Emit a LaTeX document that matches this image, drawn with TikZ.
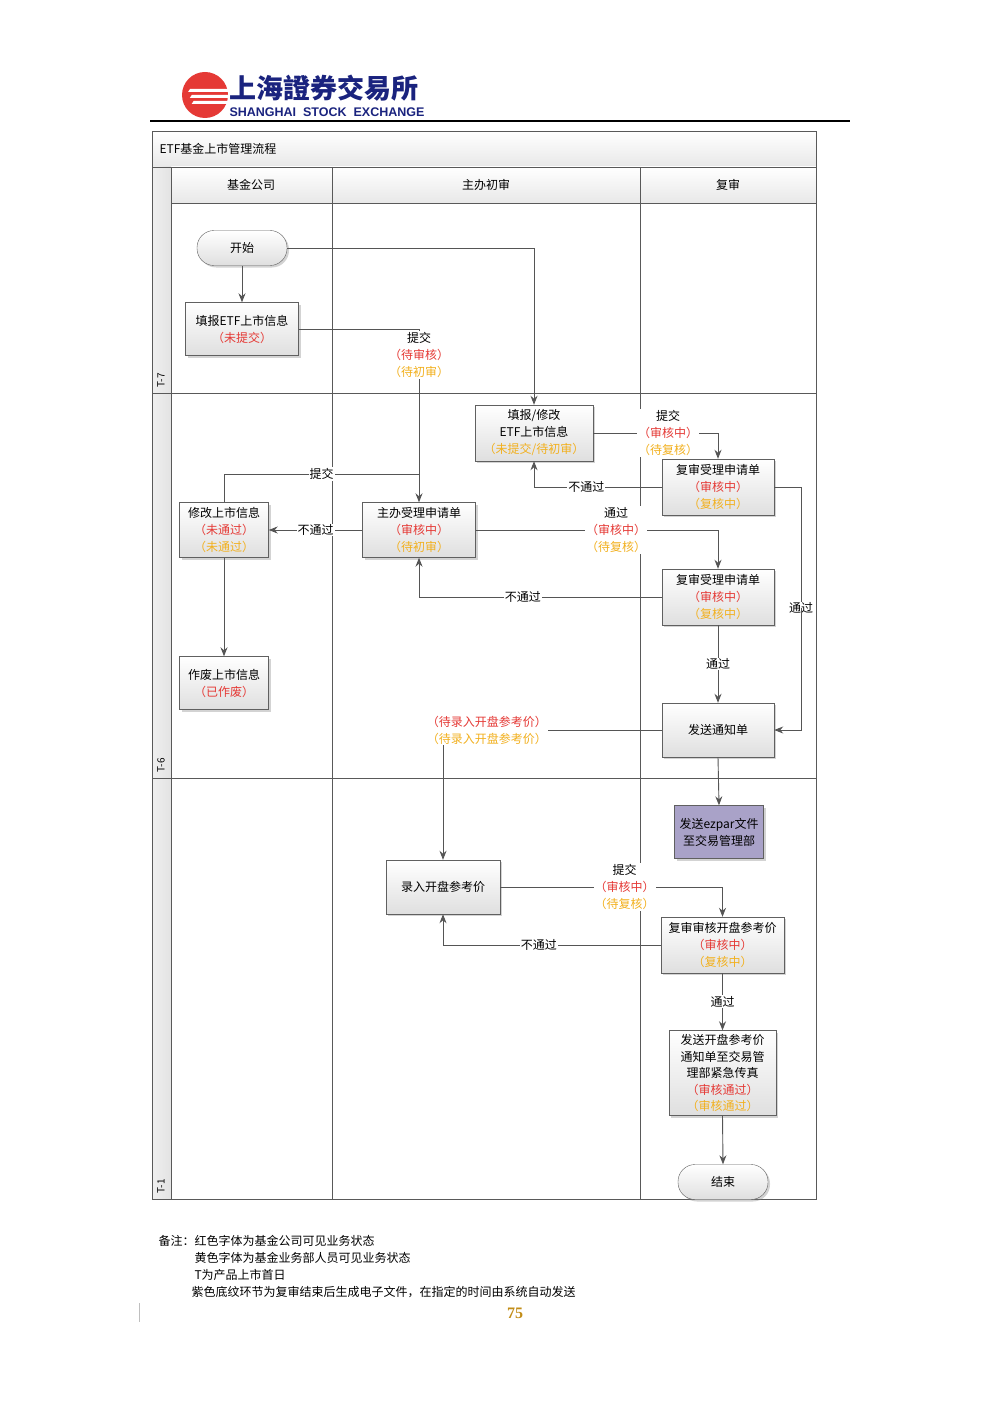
\documentclass[tikz,border=0pt]{standalone}
\usepackage{fontspec}
\setmainfont{Noto Sans CJK SC}
\newfontfamily\lat{Liberation Sans}
\newfontfamily\serifnum{Liberation Serif}
\usetikzlibrary{shadows,arrows.meta}
\definecolor{rd}{HTML}{E53935}
\definecolor{yl}{HTML}{F2B01E}
\definecolor{ln}{HTML}{555555}
\definecolor{pur}{HTML}{A9A2C8}
\definecolor{blu}{HTML}{1A237E}
\newcommand{\R}[1]{{\color{rd}#1}}
\newcommand{\Y}[1]{{\color{yl}#1}}
\begin{document}
\begin{tikzpicture}[x=1pt,y=-1pt,
  box/.style={draw=gray!75!black,top color=white,bottom color=gray!25,
    drop shadow={opacity=.35,shadow xshift=2pt,shadow yshift=-2pt},
    align=center,font=\fontsize{12}{17}\selectfont,inner sep=1pt},
  pill/.style={box,rounded corners=17pt},
  arr/.style={draw=ln,line width=0.9pt,-{Stealth[length=9pt,width=7pt]}},
  con/.style={draw=ln,line width=0.9pt},
  lbl/.style={fill=white,inner sep=1pt,align=center,font=\fontsize{12}{17}\selectfont},
  grid/.style={draw=gray!70!black,line width=0.7pt},
  txt/.style={font=\fontsize{12}{14}\selectfont}]
\useasboundingbox (0,0) rectangle (1000,1415);
% header
\fill[rd] (205,95) circle (23);
\foreach \d in {0,6,12}{\fill[white] (190+\d*0.3,89+\d) -- (232,89+\d) -- (232,92+\d) -- (188+\d*0.3,92+\d) -- cycle;}
\node[anchor=west,text=blu,font=\fontsize{27}{27}\selectfont\bfseries] (logo) at (226,88) {上海證券交易所};
\node[anchor=west,text=blu,font=\lat\bfseries\fontsize{12.5}{12}\selectfont] (logoen) at (226,112) {SHANGHAI\ \ STOCK\ \ EXCHANGE};
\draw[line width=1.5pt] (150,121) -- (850,121);
% frame
\shade[top color=white,bottom color=gray!18] (152,131) rectangle (816,167);
\shade[top color=white,bottom color=gray!18] (171,167) rectangle (816,203);
\shade[left color=gray!12,right color=gray!22] (152,167) rectangle (171,1199);
\draw[grid] (152,131) rectangle (816,1199);
\draw[grid] (152,167) -- (816,167);
\draw[grid] (171,203) -- (816,203);
\foreach \x in {171,332,640}{\draw[grid] (\x,167) -- (\x,1199);}
\draw[grid] (152,393) -- (816,393);
\draw[grid] (152,778) -- (816,778);
\node[anchor=west,txt] (title) at (156,149) {ETF基金上市管理流程};
\node[txt] (l1) at (251,185) {基金公司};
\node[txt] (l2) at (486,185) {主办初审};
\node[txt] (l3) at (728,185) {复审};
\node[rotate=90,font=\fontsize{10}{12}\selectfont,anchor=west] (p1) at (161,391) {T-7};
\node[rotate=90,font=\fontsize{10}{12}\selectfont,anchor=west] (p2) at (161,776) {T-6};
\node[rotate=90,font=\fontsize{10}{12}\selectfont,anchor=west] (p3) at (161,1197) {T-1};
% nodes
\node[pill,minimum width=90pt,minimum height=35pt] (start) at (242,248) {开始};
\node[box,minimum width=113pt,minimum height=53pt] (fill) at (242,329) {填报ETF上市信息\\\R{（未提交）}};
\node[box,minimum width=118pt,minimum height=56pt] (edit) at (534,433) {填报/修改\\ETF上市信息\\\Y{（未提交/待初审）}};
\node[box,minimum width=112pt,minimum height=56pt] (rev1) at (718,487) {复审受理申请单\\\R{（审核中）}\\\Y{（复核中）}};
\node[box,minimum width=89pt,minimum height=55pt] (modify) at (224,530) {修改上市信息\\\R{（未通过）}\\\Y{（未通过）}};
\node[box,minimum width=113pt,minimum height=55pt] (main) at (419,530) {主办受理申请单\\\R{（审核中）}\\\Y{（待初审）}};
\node[box,minimum width=112pt,minimum height=56pt] (rev2) at (718,597) {复审受理申请单\\\R{（审核中）}\\\Y{（复核中）}};
\node[box,minimum width=89pt,minimum height=53pt] (void) at (224,683) {作废上市信息\\\R{（已作废）}};
\node[box,minimum width=112pt,minimum height=54pt] (notice) at (718,730) {发送通知单};
\node[box,top color=pur,bottom color=pur,minimum width=89pt,minimum height=53pt] (ezpar) at (719,832) {发送ezpar文件\\至交易管理部};
\node[box,minimum width=114pt,minimum height=54pt] (price) at (443,887) {录入开盘参考价};
\node[box,minimum width=123pt,minimum height=56pt] (rev3) at (722.5,945) {复审审核开盘参考价\\\R{（审核中）}\\\Y{（复核中）}};
\node[box,minimum width=107pt,minimum height=85pt,font=\fontsize{12}{16.5}\selectfont] (fax) at (722.5,1073) {发送开盘参考价\\通知单至交易管\\理部紧急传真\\\R{（审核通过）}\\\Y{（审核通过）}};
\node[pill,minimum width=90pt,minimum height=35pt] (end) at (723,1182) {结束};
\coordinate (j1) at (419,474);
\coordinate (k1) at (801,608);
% edges
\draw[arr] (start.south) -- (fill.north);
\draw[arr] (start.east) -| (edit.north);
\draw[arr] (fill.east) -| node[lbl,pos=0.575]{提交\\\R{（待审核）}\\\Y{（待初审）}} (main.north);
\draw[arr] (edit.east) -| node[lbl,pos=0.3]{提交\\\R{（审核中）}\\\Y{（待复核）}} (rev1.north);
\draw[arr] (rev1.west) -| node[lbl,pos=0.295]{不通过} (edit.south);
\draw[con] (modify.north) |- node[lbl,pos=0.75]{提交} (j1);
\draw[arr] (main.west) -- node[lbl]{不通过} (modify.east);
\draw[arr] (modify.south) -- (void.north);
\draw[arr] (main.east) -| node[lbl,pos=0.29]{通过\\\R{（审核中）}\\\Y{（待复核）}} (rev2.north);
\draw[arr] (rev2.west) -| node[lbl,pos=0.286]{不通过} (main.south);
\draw[con] (rev1.east) -| (k1) node[lbl]{通过};
\draw[arr] (k1) |- (notice.east);
\draw[arr] (rev2.south) -- node[lbl]{通过} (notice.north);
\draw[arr] (notice.west) -| node[lbl,pos=0.4]{\R{（待录入开盘参考价）}\\\Y{（待录入开盘参考价）}} (price.north);
\draw[arr] (notice.south) -- (ezpar.north);
\draw[arr] (price.east) -| node[lbl,pos=0.28]{提交\\\R{（审核中）}\\\Y{（待复核）}} (rev3.north);
\draw[arr] (rev3.west) -| node[lbl,pos=0.28]{不通过} (price.south);
\draw[arr] (rev3.south) -- node[lbl]{通过} (fax.north);
\draw[arr] (fax.south) -- (end.north);
% notes
\node[anchor=west,txt] (n1) at (155,1241) {备注：红色字体为基金公司可见业务状态};
\node[anchor=west,txt] (n2) at (191,1258) {黄色字体为基金业务部人员可见业务状态};
\node[anchor=west,txt] (n3) at (191,1275) {T为产品上市首日};
\node[anchor=west,txt] (n4) at (188,1292) {紫色底纹环节为复审结束后生成电子文件，在指定的时间由系统自动发送};
\node[font=\serifnum\bfseries\fontsize{16}{16}\selectfont,text=yl!80!black] (pg) at (515,1313) {75};
\draw[gray!50] (139,1303) -- (139,1322);
\end{tikzpicture}
\end{document}
